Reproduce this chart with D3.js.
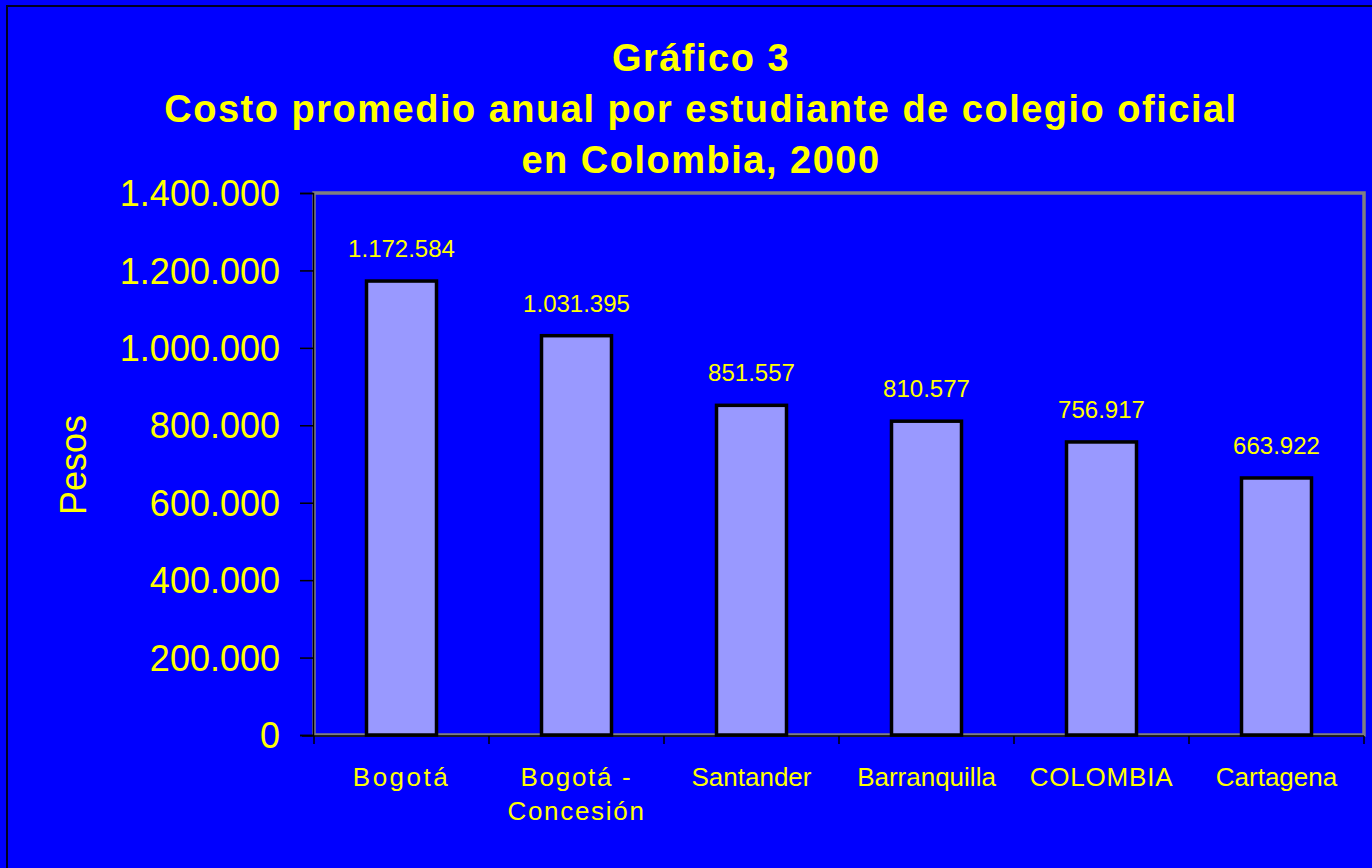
<!DOCTYPE html>
<html><head><meta charset="utf-8">
<script src="https://cdn.jsdelivr.net/npm/d3@7"></script>
<style>html,body{margin:0;padding:0;background:#0000FF;overflow:hidden}</style>
</head><body>
<script>
const categories = [["Bogotá"], ["Bogotá -", "Concesión"], ["Santander"], ["Barranquilla"], ["COLOMBIA"], ["Cartagena"]];
const values = [1172584, 1031395, 851557, 810577, 756917, 663922];
const valueLabels = ["1.172.584", "1.031.395", "851.557", "810.577", "756.917", "663.922"];
const yTicks = [0, 200000, 400000, 600000, 800000, 1000000, 1200000, 1400000];
const yTickLabels = ["0", "200.000", "400.000", "600.000", "800.000", "1.000.000", "1.200.000", "1.400.000"];
const titleLines = ["Gráfico 3", "Costo promedio anual por estudiante de colegio oficial", "en Colombia, 2000"];
const yTitle = "Pesos";

const W = 1372, H = 868;
const m = {left: 314, right: 1364, top: 193, bottom: 735};
const svg = d3.select("body").append("svg").attr("width", W).attr("height", H);
svg.append("rect").attr("width", W).attr("height", H).attr("fill", "#0000FF");
svg.append("rect").attr("x", 7).attr("y", 6).attr("width", W + 10).attr("height", H + 10)
  .attr("fill", "none").attr("stroke", "#000022").attr("stroke-width", 2);

const x = d3.scaleBand().domain(d3.range(categories.length)).range([m.left, m.right]).paddingInner(0.6).paddingOuter(0.3);
const xb = d3.scaleBand().domain(d3.range(categories.length)).range([m.left, m.right]);
const y = d3.scaleLinear().domain([0, 1400000]).range([m.bottom, m.top]);

// plot frame
svg.append("rect").attr("x", m.left).attr("y", m.top).attr("width", m.right - m.left).attr("height", m.bottom - m.top)
  .attr("fill", "none").attr("stroke", "#808080").attr("stroke-width", 3.5);

// bars
svg.selectAll("rect.bar").data(values).join("rect").attr("class", "bar")
  .attr("x", (d, i) => x(i)).attr("width", x.bandwidth())
  .attr("y", d => y(d)).attr("height", d => y(0) - y(d))
  .attr("fill", "#9999FF").attr("stroke", "#000").attr("stroke-width", 3.5);

// y axis
const ya = d3.axisLeft(y).tickValues(yTicks).tickSize(13).tickFormat((d, i) => yTickLabels[i]).tickPadding(20);
const gy = svg.append("g").attr("transform", `translate(${m.left - 1},0)`).call(ya);
gy.select(".domain").attr("stroke", "#000").attr("stroke-width", 1.5);
gy.selectAll(".tick line").attr("stroke", "#000").attr("stroke-width", 1.5);
gy.selectAll(".tick text").attr("fill", "#FFFF00").attr("font-family", "Arial, 'Liberation Sans', sans-serif")
  .attr("font-size", 36).attr("dy", "0.35em");

// x axis separators
svg.selectAll("line.sep").data(d3.range(categories.length + 1)).join("line").attr("class", "sep")
  .attr("x1", i => m.left + i * xb.step()).attr("x2", i => m.left + i * xb.step())
  .attr("y1", m.bottom + 1).attr("y2", m.bottom + 9).attr("stroke", "#000").attr("stroke-width", 1.5);
svg.append("line").attr("x1", m.left - 12).attr("x2", m.right).attr("y1", m.bottom + 1).attr("y2", m.bottom + 1)
  .attr("stroke", "#000").attr("stroke-width", 1.5);

// x labels
const spacing = [2.5, 1.7, 0, 0, 0.8, 0];
categories.forEach((lines, i) => {
  const t = svg.append("text").attr("x", xb(i) + xb.bandwidth() / 2).attr("y", 786)
    .attr("text-anchor", "middle").attr("fill", "#FFFF00")
    .attr("font-family", "Arial, 'Liberation Sans', sans-serif").attr("font-size", 26)
    .attr("letter-spacing", spacing[i]);
  lines.forEach((l, j) => t.append("tspan").attr("x", xb(i) + xb.bandwidth() / 2).attr("dy", j === 0 ? 0 : 34).text(l));
});

// value labels
svg.selectAll("text.val").data(values).join("text").attr("class", "val")
  .attr("x", (d, i) => x(i) + x.bandwidth() / 2).attr("y", d => y(d) - 24)
  .attr("text-anchor", "middle").attr("fill", "#FFFF00")
  .attr("font-family", "Arial, 'Liberation Sans', sans-serif").attr("font-size", 24)
  .text((d, i) => valueLabels[i]);

// title
const tt = svg.append("text").attr("text-anchor", "middle").attr("fill", "#FFFF00")
  .attr("font-family", "Arial, 'Liberation Sans', sans-serif").attr("font-weight", "bold").attr("font-size", 38)
  .attr("letter-spacing", 1.5);
titleLines.forEach((l, j) => tt.append("tspan").attr("x", 701).attr("y", 71 + j * 51).text(l));

// y title
svg.append("text").attr("transform", "translate(86,465) rotate(-90)").attr("text-anchor", "middle")
  .attr("fill", "#FFFF00").attr("font-family", "Arial, 'Liberation Sans', sans-serif").attr("font-size", 36).text(yTitle);
</script>
</body></html>
